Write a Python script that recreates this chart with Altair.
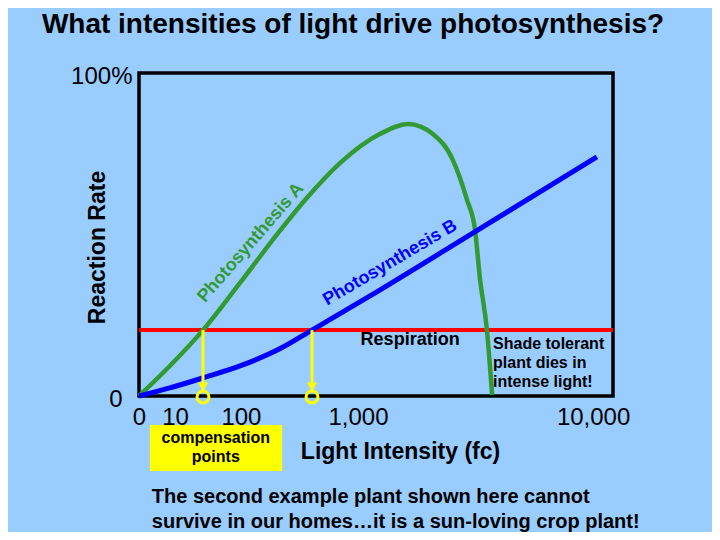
import altair as alt
import pandas as pd

FONT = "Liberation Sans"

title_text = "What intensities of light drive photosynthesis?"
x_title = "Light Intensity (fc)"
y_title = "Reaction Rate"

x_tick_pos = [0, 7.6, 21.5, 46.2, 95.8]
x_tick_labels = ["0", "10", "100", "1,000", "10,000"]
y_tick_pos = [0, 100]
y_tick_labels = ["0", "100%"]

green_x = [0, 6.5, 13.5, 21.3, 29.7, 35.4, 42.4, 50.8, 56.8, 62.0, 66.2, 69.2, 70.9, 71.9, 73.4, 74.5]
green_y = [0, 9.3, 20.4, 35.0, 51.1, 61.3, 72.1, 81.1, 84.2, 81.1, 73.1, 60.7, 51.4, 36.8, 20.4, 0.3]

blue_x = [0, 6.5, 13.5, 21.3, 29.7, 36.5, 50.8, 70.5, 96.6]
blue_y = [0, 2.5, 5.6, 9.3, 14.6, 20.4, 32.8, 50.5, 74.0]

respiration_level = 20.4
comp_x = [13.5, 36.5]

# annotation texts (position in data units)
ann_text = ["Photosynthesis A", "Photosynthesis B", "Respiration"]
ann_x = [23.6, 53.0, 57.2]
ann_y = [47.4, 41.2, 17.3]
ann_angle = [311, 329.5, 0]
ann_color = ["#339933", "#0000FF", "#000000"]

shade_lines = ["Shade tolerant", "plant dies in", "intense light!"]
shade_x = [74.7, 74.7, 74.7]
shade_y = [16.1, 10.2, 4.3]

box_x = [2.3]
box_x2 = [30.2]
box_y = [-9.0]
box_y2 = [-23.2]
box_lines = ["compensation", "points"]
box_text_x = [16.2, 16.2]
box_text_y = [-13.0, -18.9]

note_lines = ["The second example plant shown here cannot",
              "survive in our homes\u2026it is a sun-loving crop plant!"]
note_x = [2.7, 2.7]
note_y = [-31.3, -39.0]


def label_expr(pos, labels):
    parts = []
    for p, l in zip(pos, labels):
        parts.append(f"abs(datum.value - {p}) < 0.01 ? '{l}'")
    return " : ".join(parts) + " : ''"


xscale = alt.Scale(domain=[0, 100], nice=False, zero=False)
yscale = alt.Scale(domain=[0, 100], nice=False, zero=False)

x_axis = alt.Axis(values=x_tick_pos, labelExpr=label_expr(x_tick_pos, x_tick_labels),
                  ticks=False, domain=False, grid=False, labelFontSize=24, labelFont=FONT,
                  labelColor="black", labelPadding=9, labelFlush=False, labelOverlap=False,
                  title=x_title, titleFontSize=23, titleFont=FONT, titleFontWeight="bold",
                  titleColor="black", titleX=261, titleY=55, titleAlign="center",
                  titleBaseline="middle")
y_axis = alt.Axis(values=y_tick_pos, labelExpr=label_expr(y_tick_pos, y_tick_labels),
                  ticks=False, domain=False, grid=False, labelFontSize=24, labelFont=FONT,
                  labelColor="black",
                  labelPadding={"condition": {"test": "datum.value == 0", "value": 17}, "value": 7},
                  labelOffset=3, labelFlush=False,
                  title=y_title, titleFontSize=23, titleFont=FONT, titleFontWeight="bold",
                  titleColor="black", titleX=-42, titleY=174, titleAngle=270,
                  titleAlign="center", titleBaseline="middle")

X = alt.X("x:Q", scale=xscale, axis=x_axis)
Y = alt.Y("y:Q", scale=yscale, axis=y_axis)

green_df = pd.DataFrame({"x": green_x, "y": green_y})
blue_df = pd.DataFrame({"x": blue_x, "y": blue_y})
resp_df = pd.DataFrame({"y": [respiration_level]})
comp_df = pd.DataFrame({"x": comp_x, "y": [respiration_level] * 2, "y2": [1.9] * 2})
circ_df = pd.DataFrame({"x": comp_x, "y": [-0.3] * 2})
arrow_df = pd.DataFrame({"x": comp_x, "y": [3.0] * 2})
ann_df = pd.DataFrame({"x": ann_x, "y": ann_y, "t": ann_text, "a": ann_angle, "c": ann_color})
shade_df = pd.DataFrame({"x": shade_x, "y": shade_y, "t": shade_lines})
box_df = pd.DataFrame({"x": box_x, "x2": box_x2, "y": box_y, "y2": box_y2})
boxt_df = pd.DataFrame({"x": box_text_x, "y": box_text_y, "t": box_lines})
note_df = pd.DataFrame({"x": note_x, "y": note_y, "t": note_lines})

resp = alt.Chart(resp_df).mark_rule(color="#FF0000", strokeWidth=4).encode(y=Y)
green = alt.Chart(green_df).mark_line(color="#339933", strokeWidth=4.5, interpolate="monotone").encode(x=X, y=Y)
blue = alt.Chart(blue_df).mark_line(color="#0000FF", strokeWidth=5, interpolate="monotone").encode(x=X, y=Y)
comp = alt.Chart(comp_df).mark_rule(color="#FFFF00", strokeWidth=3).encode(x=X, y=Y, y2="y2:Q")
circ = alt.Chart(circ_df).mark_point(shape="circle", size=140, color="#FFFF00", filled=False,
                                      strokeWidth=3, opacity=1).encode(x=X, y=Y)
arrow = alt.Chart(arrow_df).mark_point(shape="M-1,-1L0,0.6L1,-1", size=60, color="#FFFF00",
                                       filled=False, strokeWidth=2.5, opacity=1).encode(x=X, y=Y)
ann = alt.Chart(ann_df).mark_text(font=FONT, fontSize=18, fontWeight="bold", align="center",
                                  baseline="middle").encode(
    x=X, y=Y, text="t:N", angle=alt.Angle("a:Q", scale=None), color=alt.Color("c:N", scale=None))
shade = alt.Chart(shade_df).mark_text(font=FONT, fontSize=16, fontWeight="bold", align="left",
                                      baseline="middle", color="black").encode(x=X, y=Y, text="t:N")
box = alt.Chart(box_df).mark_rect(color="#FFFF00").encode(x=X, x2="x2:Q", y=Y, y2="y2:Q")
boxt = alt.Chart(boxt_df).mark_text(font=FONT, fontSize=16, fontWeight="bold", align="center",
                                    baseline="middle", color="black").encode(x=X, y=Y, text="t:N")
note = alt.Chart(note_df).mark_text(font=FONT, fontSize=20, fontWeight="bold", align="left",
                                    baseline="middle", color="black").encode(x=X, y=Y, text="t:N")

chart = alt.layer(resp, green, blue, comp, circ, arrow, ann, shade, box, boxt, note).properties(
    width=474, height=323,
    autosize=alt.AutoSizeParams(type="none"),
    padding={"left": 131, "top": 65, "right": 99, "bottom": 136},
    background="#99CCFF",
    title=alt.TitleParams(text=title_text, font=FONT, fontSize=28, fontWeight="bold",
                          color="black", anchor="middle", dx=-23, offset=25),
).configure_view(stroke="black", strokeWidth=3.5)

chart.save("out.html", embed_options={"renderer": "svg", "actions": False})
